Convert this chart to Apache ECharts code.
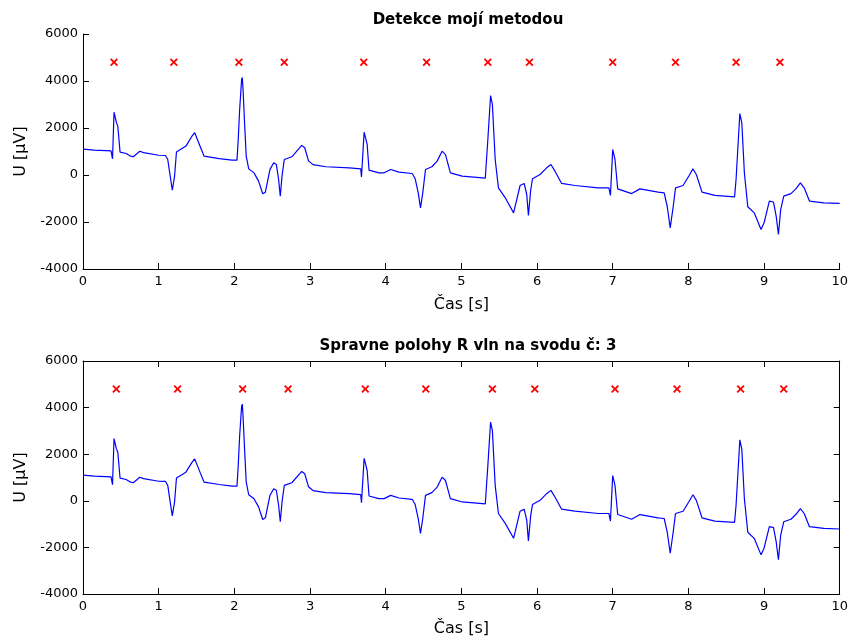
<!DOCTYPE html>
<html>
<head>
<meta charset="utf-8">
<title>Detekce R vln</title>
<script src="https://cdn.jsdelivr.net/npm/echarts@6/dist/echarts.min.js"></script>
<style>
  html, body { margin: 0; padding: 0; background: #fff; }
  #chart { width: 851px; height: 638px; }
</style>
</head>
<body>
<div id="chart"></div>
<script>
// ECG lead 3, first 10 s: sample times [s] and voltage [µV]
const timeS = [
  0.00, 0.15, 0.30, 0.37, 0.39, 0.41, 0.42, 0.44, 0.46, 0.49,
  0.57, 0.63, 0.665, 0.75, 0.80, 1.00, 1.09, 1.12, 1.15, 1.18,
  1.21, 1.235, 1.26, 1.36, 1.44, 1.476, 1.50, 1.546, 1.60, 1.80,
  1.97, 2.035, 2.05, 2.07, 2.096, 2.105, 2.115, 2.135, 2.157, 2.19,
  2.26, 2.32, 2.375, 2.41, 2.47, 2.52, 2.555, 2.585, 2.607, 2.63,
  2.66, 2.76, 2.89, 2.93, 2.98, 3.04, 3.21, 3.52, 3.67, 3.68,
  3.715, 3.737, 3.755, 3.78, 3.91, 3.98, 4.066, 4.175, 4.35, 4.39,
  4.43, 4.46, 4.49, 4.526, 4.61, 4.68, 4.745, 4.79, 4.855, 5.01,
  5.316, 5.33, 5.35, 5.386, 5.41, 5.447, 5.49, 5.58, 5.69, 5.776,
  5.83, 5.864, 5.886, 5.917, 5.94, 6.04, 6.127, 6.184, 6.237, 6.325,
  6.50, 6.81, 6.95, 6.97, 7.00, 7.03, 7.066, 7.25, 7.36, 7.60,
  7.68, 7.72, 7.76, 7.80, 7.83, 7.93, 8.01, 8.06, 8.105, 8.18,
  8.35, 8.61, 8.63, 8.68, 8.706, 8.74, 8.785, 8.87, 8.96, 9.00,
  9.07, 9.125, 9.16, 9.19, 9.22, 9.26, 9.355, 9.42, 9.48, 9.53,
  9.60, 9.79, 10.00
];
const voltageUV = [
  1100, 1060, 1040, 1030, 690, 2670, 2700, 2250, 2080, 970,
  915, 800, 775, 1010, 950, 840, 830, 660, 0, -650,
  -50, 980, 1040, 1230, 1650, 1800, 1730, 1230, 800, 700,
  630, 630, 1440, 2780, 4060, 4150, 3640, 2220, 800, 260,
  90, -260, -800, -730, 230, 520, 450, -190, -900, -50,
  660, 775, 1260, 1160, 600, 440, 350, 305, 262, -80,
  1820, 1540, 1300, 205, 92, 92, 234, 120, 64, -160,
  -760, -1400, -760, 234, 350, 590, 1015, 870, 92, -50,
  -135, -190, 1510, 3380, 3000, 660, -545, -970, -1610, -447,
  -360, -830, -1720, -617, -163, 20, 305, 447, 163, -360,
  -447, -546, -546, -870, 1085, 660, -590, -790, -590, -730,
  -760, -1330, -2250, -1330, -545, -447, -20, 262, 20, -730,
  -870, -930, -190, 2615, 2220, 92, -1350, -1610, -2320, -2035,
  -1110, -1150, -1750, -2530, -1470, -900, -790, -590, -333, -545,
  -1110, -1185, -1210
];

// R-wave positions [s]: found by the detector, and the annotated ones
const detectedPeaksS = [0.41, 1.20, 2.06, 2.66, 3.71, 4.54, 5.35, 5.90, 7.00, 7.83, 8.63, 9.21];
const referencePeaksS = [0.44, 1.25, 2.11, 2.71, 3.73, 4.53, 5.41, 5.97, 7.03, 7.85, 8.69, 9.26];
const markerLevelUV = 4800;

const titles = ['Detekce mojí metodou', 'Spravne polohy R vln na svodu č: 3'];
const xAxisName = 'Čas [s]';
const yAxisName = 'U [µV]';

const FONT = 'DejaVu Sans';
const signal = timeS.map((t, i) => [t, voltageUV[i]]);
const markers = peaks => peaks.map(t => [t, markerLevelUV]);
const plainNumber = v => String(v);

// filled "x" glyph for the peak markers
const crossPath = 'path://M0,1.6L1.6,0L5,3.4L8.4,0L10,1.6L6.6,5L10,8.4L8.4,10L5,6.6L1.6,10L0,8.4L3.4,5Z';

function xAxisFor(grid, nameGap) {
  return {
    gridIndex: grid, type: 'value', min: 0, max: 10, interval: 1,
    axisLine: { show: true, onZero: false, lineStyle: { color: '#000', width: 1 } },
    axisTick: { show: true, inside: true, length: 6, lineStyle: { color: '#000' } },
    axisLabel: { color: '#000', fontSize: 13, fontFamily: FONT, margin: 6, formatter: plainNumber },
    splitLine: { show: false },
    name: xAxisName, nameLocation: 'middle', nameGap: nameGap,
    nameTextStyle: { color: '#000', fontSize: 16, fontFamily: FONT }
  };
}
function yAxisFor(grid) {
  return {
    gridIndex: grid, type: 'value', min: -4000, max: 6000, interval: 2000,
    axisLine: { show: true, onZero: false, lineStyle: { color: '#000', width: 1 } },
    axisTick: { show: true, inside: true, length: 6, lineStyle: { color: '#000' } },
    axisLabel: { color: '#000', fontSize: 13, fontFamily: FONT, margin: 5, formatter: plainNumber },
    splitLine: { show: false },
    name: yAxisName, nameLocation: 'middle', nameGap: 52,
    nameTextStyle: { color: '#000', fontSize: 16, fontFamily: FONT }
  };
}
// mirrored box edges (top and right) for the lower panel
const boxX = {
  gridIndex: 1, type: 'value', min: 0, max: 10, interval: 1, position: 'top',
  axisLine: { show: true, onZero: false, lineStyle: { color: '#000', width: 1 } },
  axisTick: { show: true, inside: true, length: 6, lineStyle: { color: '#000' } },
  axisLabel: { show: false }, splitLine: { show: false }
};
const boxY = {
  gridIndex: 1, type: 'value', min: -4000, max: 6000, interval: 2000, position: 'right',
  axisLine: { show: true, onZero: false, lineStyle: { color: '#000', width: 1 } },
  axisTick: { show: true, inside: true, length: 6, lineStyle: { color: '#000' } },
  axisLabel: { show: false }, splitLine: { show: false }
};

function lineSeries(ax) {
  return {
    type: 'line', xAxisIndex: ax, yAxisIndex: ax, data: signal,
    showSymbol: false, symbol: 'none', smooth: false,
    lineStyle: { color: '#0000ff', width: 1.2 }, silent: true, z: 2
  };
}
function markerSeries(ax, peaks) {
  return {
    type: 'scatter', xAxisIndex: ax, yAxisIndex: ax, data: markers(peaks),
    symbol: crossPath, symbolSize: 8,
    itemStyle: { color: '#ff0000', opacity: 1 }, silent: true, z: 3
  };
}

const chart = echarts.init(document.getElementById('chart'), null, { renderer: 'canvas' });
chart.setOption({
  animation: false,
  backgroundColor: '#ffffff',
  textStyle: { fontFamily: FONT },
  title: [
    { text: titles[0], left: 463, top: 8, textAlign: 'center',
      textStyle: { fontSize: 15, fontWeight: 'bold', color: '#000', fontFamily: FONT } },
    { text: titles[1], left: 463, top: 334, textAlign: 'center',
      textStyle: { fontSize: 15, fontWeight: 'bold', color: '#000', fontFamily: FONT } }
  ],
  grid: [
    { left: 83, top: 34, width: 760, height: 235, containLabel: false },
    { left: 83, top: 361, width: 760, height: 233, containLabel: false }
  ],
  xAxis: [xAxisFor(0, 28), xAxisFor(1, 27), boxX],
  yAxis: [yAxisFor(0), yAxisFor(1), boxY],
  series: [
    lineSeries(0),
    markerSeries(0, detectedPeaksS),
    lineSeries(1),
    markerSeries(1, referencePeaksS)
  ]
});
</script>
</body>
</html>
